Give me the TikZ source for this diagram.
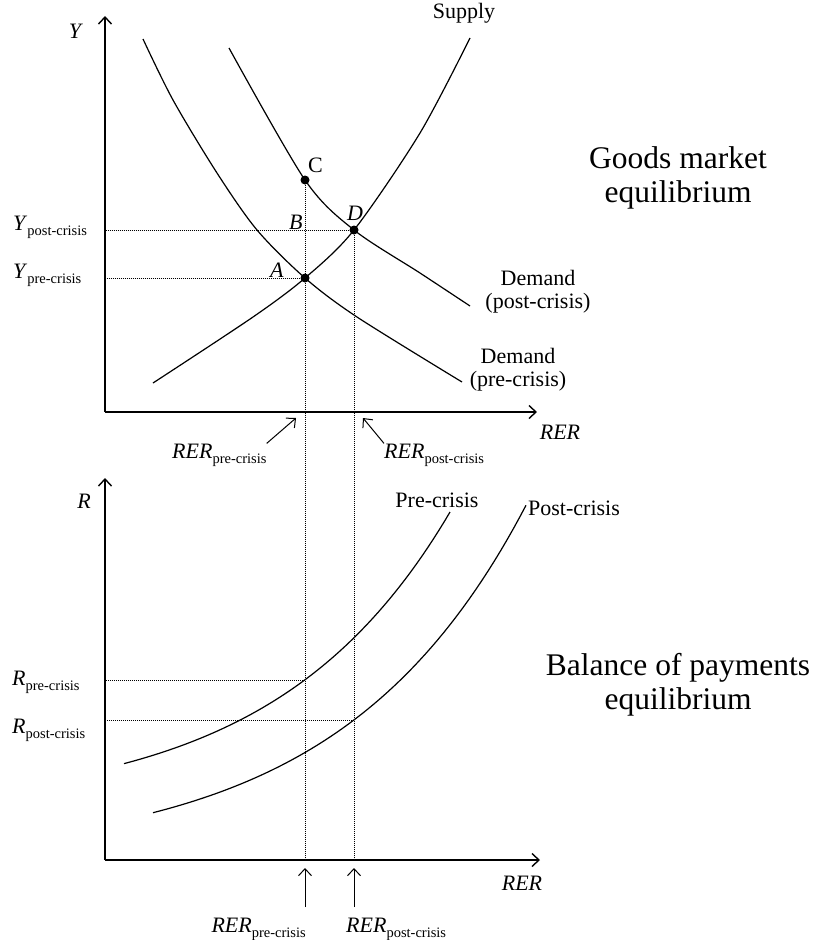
\documentclass[tikz,border=0pt]{standalone}
\usepackage{fontspec}
\setmainfont{Liberation Serif}
\usetikzlibrary{arrows.meta}
\newcommand{\sublab}[2]{\textit{#1}\raisebox{-0.5ex}{\fontsize{14.5}{15}\selectfont #2}}

\begin{document}
\begin{tikzpicture}[
  x=1pt, y=-1pt,
  font=\fontsize{22}{23}\selectfont,
  axis/.style={line width=1.4pt, -{Straight Barb[length=7pt,width=13pt]}},
  curve/.style={line width=1.2pt},
  guide/.style={line width=0.8pt, dash pattern=on 1pt off 1pt},
  dot/.style={circle, fill, inner sep=0pt, minimum size=9pt},
  lbl/.style={inner sep=0pt},
  title/.style={align=center, inner sep=0pt, font=\fontsize{31.5}{34}\selectfont},
  tagarr/.style={line width=1pt, -{Straight Barb[length=7pt,width=13pt]}}
]
\useasboundingbox (0,0) rectangle (815,940);
\coordinate (O1) at (105,412);
\coordinate (Ytop) at (105,16);
\coordinate (X1end) at (537,412);
\coordinate (O2) at (105,860);
\coordinate (Rtop) at (105,478);
\coordinate (X2end) at (540,860);
\draw[axis] (O1) -- (Ytop);
\draw[axis] (O1) -- (X1end);
\draw[axis] (O2) -- (Rtop);
\draw[axis] (O2) -- (X2end);
\draw[curve] plot[smooth] coordinates {(143,39) (173,100) (217,173) (257,230) (305,278) (357,317) (462,382)};
\draw[curve] plot[smooth] coordinates {(229,48) (305,180) (354,230) (420,273) (470,306)};
\draw[curve] plot[smooth] coordinates {(153,383) (253,317) (305,278) (354,230) (420,133) (470,38)};
\draw[curve] plot[domain=124:450, samples=60] (\x, {810-22.85*exp(0.0057*\x)});
\draw[curve] plot[domain=153:526, samples=60] (\x, {860-20.7*exp(0.0054*\x)});
\node[dot] (A) at (305,278) {};
\node[dot] (C) at (305,180) {};
\node[dot] (D) at (354,230) {};
\coordinate (Rpre) at (305,680);
\coordinate (Rpost) at (354,720);
\draw[guide] (D) -- (D -| O1);
\draw[guide] (A) -- (A -| O1);
\draw[guide] (C) -- (C |- O2);
\draw[guide] (D) -- (D |- O2);
\draw[guide] (Rpre) -- (Rpre -| O2);
\draw[guide] (Rpost) -- (Rpost -| O2);
\node[lbl, anchor=base] (ylab) at (76,38) {\textit{Y}};
\node[lbl, anchor=base west] (ypost) at (13,230) {\sublab{Y}{post-crisis}};
\node[lbl, anchor=base west] (ypre) at (13,278) {\sublab{Y}{pre-crisis}};
\node[lbl, anchor=base] (supply) at (464,18) {Supply};
\node[lbl, anchor=base west] (clab) at (308,172) {C};
\node[lbl, anchor=base west] (blab) at (289,229) {\textit{B}};
\node[lbl, anchor=base west] (dlab) at (347,220) {\textit{D}};
\node[lbl, anchor=base west] (alab) at (270,277) {\textit{A}};
\node[lbl, align=center] (dpost) at (538,292) {Demand\\(post-crisis)};
\node[lbl, align=center] (dpre) at (518,370) {Demand\\(pre-crisis)};
\node[title] (goods) at (678,178) {Goods market\\equilibrium};
\node[lbl, anchor=base] (rer1) at (560,439) {\textit{RER}};
\node[lbl, anchor=base west] (rerpre1) at (172,458) {\sublab{RER}{pre-crisis}};
\node[lbl, anchor=base west] (rerpost1) at (384,458) {\sublab{RER}{post-crisis}};
\coordinate (tippre1) at (296,418);
\coordinate (tippost1) at (363,418);
\draw[tagarr] (rerpre1.north east) -- (tippre1);
\draw[tagarr] (rerpost1.north west) -- (tippost1);
\node[lbl, anchor=base] (rlab) at (84,508) {\textit{R}};
\node[lbl, anchor=base west] (rpre) at (12,685) {\sublab{R}{pre-crisis}};
\node[lbl, anchor=base west] (rpost) at (12,733) {\sublab{R}{post-crisis}};
\node[lbl, anchor=base] (pre) at (437,507) {Pre-crisis};
\node[lbl, anchor=base west] (post) at (528,515) {Post-crisis};
\node[title] (bop) at (678,685) {Balance of payments\\equilibrium};
\node[lbl, anchor=base] (rer2) at (522,890) {\textit{RER}};
\node[lbl, anchor=base east] (rerpre2) at (306,932) {\sublab{RER}{pre-crisis}};
\node[lbl, anchor=base west] (rerpost2) at (346,932) {\sublab{RER}{post-crisis}};
\coordinate (tailpre2) at (305,907);
\coordinate (tippre2) at (305,868);
\coordinate (tailpost2) at (354,907);
\coordinate (tippost2) at (354,868);
\draw[tagarr] (tailpre2) -- (tippre2);
\draw[tagarr] (tailpost2) -- (tippost2);
\end{tikzpicture}
\end{document}
